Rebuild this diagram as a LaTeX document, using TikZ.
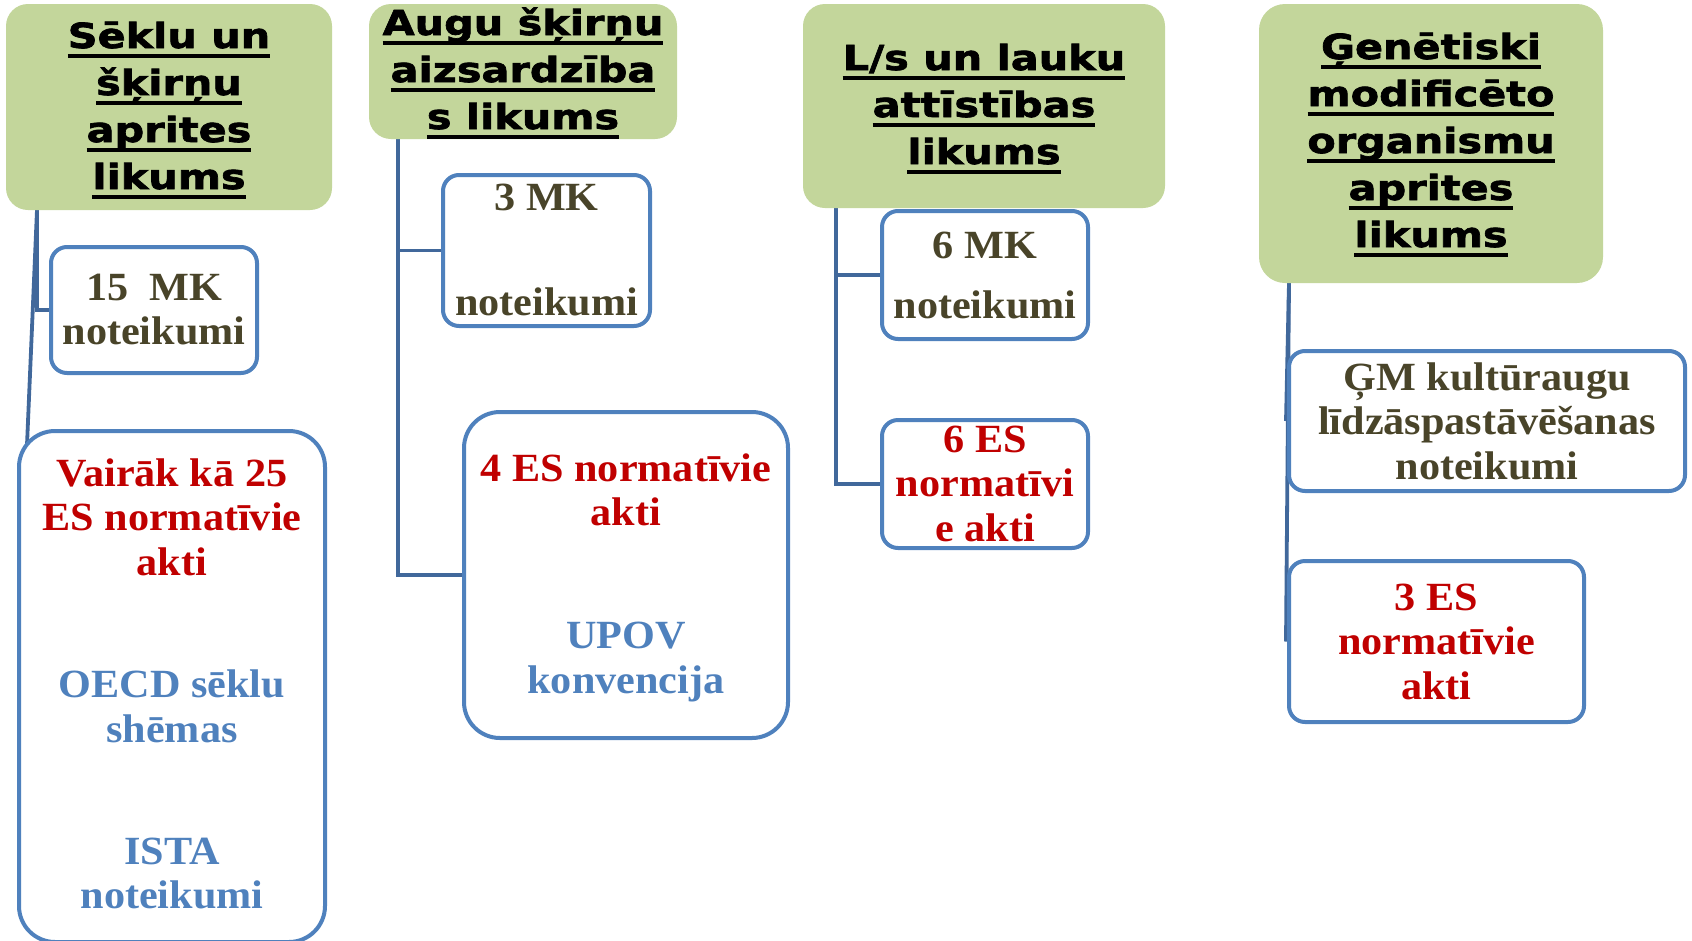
\documentclass[tikz,border=0pt]{standalone}
\usepackage{fontspec}
\newfontfamily\hdfont{DejaVu Sans}[FakeStretch=1.2,FakeBold=2]
\newfontfamily\bdfont{Liberation Serif}[FakeStretch=1.055]
\definecolor{conn}{HTML}{41689B}
\definecolor{bord}{HTML}{4F81BD}
\definecolor{greenf}{HTML}{C3D69B}
\definecolor{olive}{HTML}{494429}
\definecolor{redt}{HTML}{C00000}
\definecolor{bluet}{HTML}{4F81BD}
\newsavebox\hubox
\newcommand\hu[1]{\leavevmode\sbox\hubox{#1}\rlap{\rule[-10pt]{\wd\hubox}{4pt}}\usebox\hubox}
\newcommand\hdf{\hdfont\bfseries\fontsize{34.5}{47}\selectfont}
\newcommand\bdf{\bdfont\bfseries\fontsize{40}{44.5}\selectfont}
\newcommand\bx[4]{\begin{minipage}[c][#2][t]{#1}\centering\vspace*{\dimexpr#3-60pt\relax}\rule{0pt}{60pt}#4\end{minipage}}
\pgfdeclarelayer{bg}
\pgfsetlayers{bg,main}
\tikzset{
  hdr/.style={fill=greenf, rounded corners=22pt, inner sep=0pt, outer sep=0pt, anchor=north west},
  leaf/.style={draw=bord, line width=4pt, fill=white, rounded corners=16pt, inner sep=0pt, outer sep=0pt, anchor=north west},
  bigleaf/.style={leaf, rounded corners=36pt},
  link/.style={draw=conn, line width=3.8pt}
}
\begin{document}
\begin{tikzpicture}[x=1pt,y=-1pt]
\useasboundingbox (0,0) rectangle (1692,940);
% headers
\node[hdr] (A) at (6,4) {\bx{326pt}{206pt}{44pt}{\hdf\hu{Sēklu un}\\\hu{šķirņu}\\\hu{aprites}\\\hu{likums}}};
\node[hdr] (Bg) at (369,4) {\bx{308pt}{135pt}{31pt}{\hdf\hu{Augu šķirņu}\\\hu{aizsardzība}\\\hu{s likums}}};
\node[hdr] (C) at (803,4) {\bx{362pt}{204pt}{66pt}{\hdf\hu{L/s un lauku}\\\hu{attīstības}\\\hu{likums}}};
\node[hdr,rounded corners=26pt] (D) at (1259,4) {\bx{344pt}{279pt}{55pt}{\hdf\hu{Ģenētiski}\\\hu{modificēto}\\\hu{organismu}\\\hu{aprites}\\\hu{likums}}};
% leaves
\node[leaf] (B1) at (51,247) {\bx{206pt}{126pt}{53pt}{\bdf\color{olive}15~~MK\\noteikumi}};
\node[bigleaf] (B2) at (19,431) {\bx{306pt}{511pt}{55pt}{\bdf\color{redt}Vairāk kā 25\\ES normatīvie\\akti\\[78pt]\color{bluet}OECD sēklu\\shēmas\\[77.5pt]ISTA\\noteikumi}};
\node[leaf] (B3) at (443,175) {\bx{207pt}{151pt}{35pt}{\bdf\color{olive}3 MK\\[61pt]noteikumi}};
\node[bigleaf] (B4) at (464,412) {\bx{324pt}{326pt}{69pt}{\bdf\color{redt}4 ES normatīvie\\akti\\[78.5pt]\color{bluet}UPOV\\konvencija}};
\node[leaf] (B5) at (882,211) {\bx{206pt}{128pt}{47pt}{\bdf\color{olive}6 MK\\[16pt]noteikumi}};
\node[leaf] (B6) at (882,420) {\bx{206pt}{128pt}{32pt}{\bdf\color{redt}6 ES\\normatīvi\\e akti}};
\node[leaf] (B7) at (1289,351) {\bx{396pt}{140pt}{39pt}{\bdf\color{olive}ĢM kultūraugu\\līdzāspastāvēšanas\\noteikumi}};
\node[leaf] (B8) at (1289,561) {\bx{295pt}{161pt}{49pt}{\bdf\color{redt}3 ES\\normatīvie\\akti}};
% connectors
\begin{pgfonlayer}{bg}
\draw[link] ([xshift=31pt]A.south west) |- (B1.west);
\draw[link] ([xshift=31pt]A.south west) -- ([xshift=8pt,yshift=-14pt]B2.north west);
\draw[link] ([xshift=29pt]Bg.south west) |- (B3.west);
\draw[link] ([xshift=29pt]Bg.south west) |- (B4.west);
\draw[link] ([xshift=33pt]C.south west) |- (B5.west);
\draw[link] ([xshift=33pt]C.south west) |- (B6.west);
\draw[link] ([xshift=30pt]D.south west) -- ([xshift=-3pt]B7.west);
\draw[link] ([xshift=30pt]D.south west) -- ([xshift=-3pt]B8.west);
\end{pgfonlayer}
\end{tikzpicture}
\end{document}
